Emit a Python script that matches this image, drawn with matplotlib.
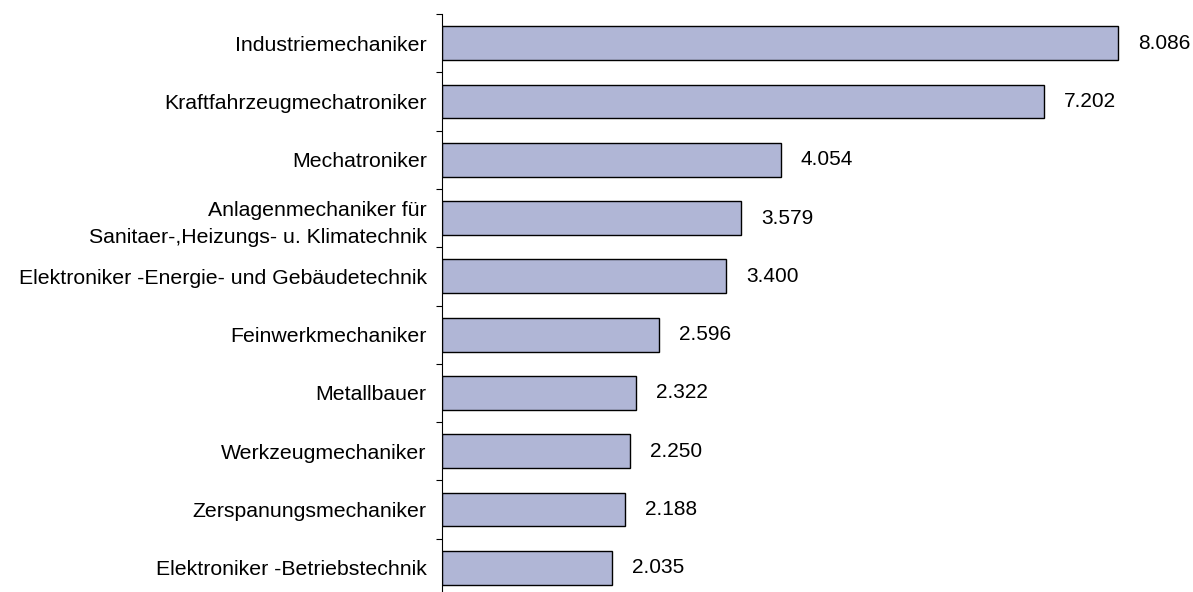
import matplotlib
matplotlib.use("Agg")
import matplotlib.pyplot as plt

categories = [
    "Industriemechaniker",
    "Kraftfahrzeugmechatroniker",
    "Mechatroniker",
    "Anlagenmechaniker für\nSanitaer-,Heizungs- u. Klimatechnik",
    "Elektroniker -Energie- und Gebäudetechnik",
    "Feinwerkmechaniker",
    "Metallbauer",
    "Werkzeugmechaniker",
    "Zerspanungsmechaniker",
    "Elektroniker -Betriebstechnik",
]
values = [8.086, 7.202, 4.054, 3.579, 3.400, 2.596, 2.322, 2.250, 2.188, 2.035]
value_labels = ["8.086", "7.202", "4.054", "3.579", "3.400", "2.596", "2.322", "2.250", "2.188", "2.035"]

plt.rcParams['font.family'] = ['Liberation Sans', 'DejaVu Sans']

W, H = 1193, 592
fig = plt.figure(figsize=(W / 100, H / 100), dpi=100)
ax_left = 442 / W
ax_right = 1194 / W
ax_top = 1 - 14 / H
ax_bottom = 1 - 597 / H
ax = fig.add_axes([ax_left, ax_bottom, ax_right - ax_left, ax_top - ax_bottom])

n = len(categories)
pos = list(range(n))
ax.barh(pos, values, height=0.58, color="#B0B6D6", edgecolor="black", linewidth=1.0)
ax.set_xlim(0, 9)
ax.set_ylim(n - 0.5, -0.5)

for p, v, lab in zip(pos, values, value_labels):
    ax.text(v + 0.24, p, lab, va="center", ha="left", fontsize=15)

ax.set_yticks(pos)
ax.set_yticklabels(categories, fontsize=15.3, linespacing=1.55, ha="right")
ax.tick_params(axis="y", length=0, pad=11)
ax.set_yticks([i - 0.5 for i in range(n + 1)], minor=True)
ax.tick_params(axis="y", which="minor", length=4.5, width=0.8, direction="out")
ax.set_xticks([])
for s in ["top", "right", "bottom"]:
    ax.spines[s].set_visible(False)
ax.spines["left"].set_linewidth(0.8)

fig.savefig("out.png", dpi=100)
